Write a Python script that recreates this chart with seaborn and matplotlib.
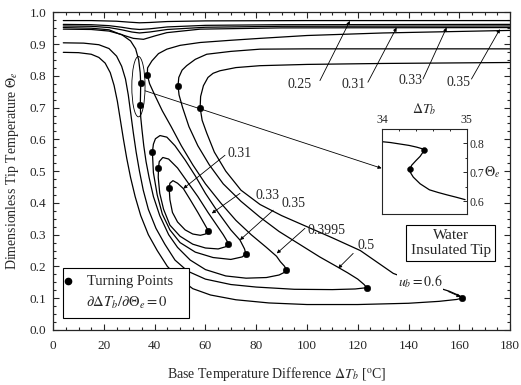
import numpy as np
import pandas as pd
import matplotlib
matplotlib.use("Agg")
import matplotlib.pyplot as plt
import seaborn as sns
from matplotlib.patches import Ellipse, Rectangle
from matplotlib.ticker import MultipleLocator, FormatStrFormatter

sns.set_style("ticks")
plt.rcParams["font.family"] = ["Liberation Serif", "DejaVu Serif"]
plt.rcParams["mathtext.fontset"] = "stix"

# upper branches u_b = 0.25 .. 0.35
up25_x = [4, 15, 25, 30, 34, 38, 45, 60, 100, 180]
up25_y = [0.974, 0.974, 0.972, 0.969, 0.967, 0.968, 0.971, 0.973, 0.974, 0.974]
up31_x = [4, 15, 22, 27, 31, 34, 38, 45, 60, 90, 180]
up31_y = [0.962, 0.961, 0.958, 0.953, 0.948, 0.946, 0.948, 0.954, 0.959, 0.961, 0.962]
up33_x = [4, 15, 22, 27, 31, 34, 38, 45, 60, 90, 180]
up33_y = [0.957, 0.956, 0.952, 0.945, 0.938, 0.935, 0.938, 0.946, 0.953, 0.956, 0.957]
up35_x = [4, 15, 22, 26.4, 31.6, 35.6, 40.2, 44.8, 57.9, 90, 180]
up35_y = [0.952, 0.950, 0.945, 0.931, 0.918, 0.915, 0.926, 0.936, 0.947, 0.951, 0.952]

# isolas u_b = 0.31, 0.33, 0.35
iso31_x = [45.7, 46.0, 47.2, 49.0, 51.3, 54.0, 57.0, 59.5, 60.7, 60.9, 60.0, 58.0, 55.0, 52.0, 49.0, 47.0, 46.0, 45.7]
iso31_y = [0.446, 0.462, 0.470, 0.462, 0.445, 0.410, 0.370, 0.335, 0.318, 0.310, 0.302, 0.298, 0.302, 0.315, 0.340, 0.370, 0.410, 0.446]
iso33_x = [41.5, 41.8, 43.2, 45.5, 49.0, 53.0, 57.0, 61.0, 64.0, 67.0, 68.5, 68.8, 68.0, 65.0, 60.0, 55.0, 50.0, 46.0, 43.5, 42.0, 41.4, 41.5]
iso33_y = [0.511, 0.530, 0.543, 0.538, 0.510, 0.465, 0.420, 0.370, 0.335, 0.300, 0.280, 0.272, 0.262, 0.255, 0.258, 0.270, 0.295, 0.330, 0.380, 0.430, 0.480, 0.511]
iso35_x = [39.1, 39.5, 40.3, 42.1, 44.8, 48.0, 52.0, 56.0, 60.0, 65.0, 70.0, 73.6, 75.4, 75.9, 74.5, 70.0, 63.0, 56.0, 50.0, 46.0, 43.0, 41.0, 39.5, 39.1]
iso35_y = [0.560, 0.585, 0.602, 0.612, 0.607, 0.580, 0.535, 0.485, 0.430, 0.370, 0.315, 0.283, 0.255, 0.240, 0.230, 0.222, 0.228, 0.245, 0.275, 0.315, 0.365, 0.425, 0.495, 0.560]

# S-shaped curves u_b = 0.3995, 0.5, 0.6 (descending, lower, middle, upper branch)
s40_x = [4, 15, 22, 27, 30.5, 32.5, 33.7, 34.3, 34.5, 34.42, 34.33, 34.5, 35.0, 35.7, 36.6, 37.8, 39.5, 42, 45.5, 49, 54, 60, 68, 76, 84, 89, 91.3, 91.7,
         91.2, 89.5, 88, 84, 78, 72, 66, 60, 55, 50.5, 46.5, 43, 40, 38, 37.1,
         37.2, 38.9, 41.5, 44.8, 50, 57.9, 70, 81.5, 100, 130, 180]
s40_y = [0.947, 0.946, 0.941, 0.930, 0.910, 0.885, 0.850, 0.810, 0.777, 0.740, 0.709, 0.670, 0.630, 0.580, 0.530, 0.480, 0.420, 0.360, 0.300, 0.260, 0.220, 0.190, 0.170, 0.163, 0.165, 0.173, 0.182, 0.190,
         0.200, 0.215, 0.232, 0.260, 0.300, 0.345, 0.400, 0.460, 0.520, 0.580, 0.640, 0.690, 0.740, 0.775, 0.803,
         0.825, 0.847, 0.870, 0.884, 0.896, 0.905, 0.912, 0.918, 0.927, 0.935, 0.943]
s50_x = [4, 12, 18, 22, 25, 27, 28.5, 29.6, 30.6, 31.6, 32.7, 34, 35.5, 37.5, 40.5, 44, 48, 53, 60, 70, 80, 95, 110, 119, 123.5,
         122.5, 120, 116, 112.3, 105, 97, 89, 81.5, 74, 67, 61.5, 57, 53.5, 51, 49.6, 49.2,
         49.5, 50.8, 52.6, 56, 60.5, 70, 81.5, 100, 140, 180]
s50_y = [0.904, 0.903, 0.898, 0.886, 0.862, 0.830, 0.790, 0.740, 0.680, 0.620, 0.560, 0.500, 0.440, 0.380, 0.320, 0.270, 0.220, 0.185, 0.160, 0.143, 0.135, 0.128, 0.127, 0.129, 0.133,
         0.143, 0.160, 0.180, 0.197, 0.230, 0.270, 0.310, 0.355, 0.405, 0.460, 0.520, 0.580, 0.640, 0.700, 0.740, 0.769,
         0.795, 0.818, 0.832, 0.852, 0.868, 0.877, 0.884, 0.885, 0.885, 0.885]
s60_x = [4, 10, 15, 18, 20.5, 22.5, 24, 25.3, 26.5, 27.7, 29, 30.5, 32.3, 34.5, 37.5, 41, 45, 50, 55, 62, 72, 85, 100, 120, 140, 152, 159, 161,
         160, 156, 148, 140, 134, 121, 110, 100, 90, 81.5, 74, 68, 63.5, 60.5, 58.7, 57.9,
         58.1, 59.2, 61, 63, 65.7, 72, 81.5, 100, 130, 180]
s60_y = [0.874, 0.873, 0.868, 0.858, 0.840, 0.810, 0.770, 0.720, 0.660, 0.600, 0.540, 0.480, 0.420, 0.360, 0.300, 0.250, 0.200, 0.160, 0.130, 0.110, 0.095, 0.085, 0.080, 0.080, 0.084, 0.090, 0.096, 0.100,
         0.108, 0.122, 0.142, 0.160, 0.178, 0.250, 0.290, 0.325, 0.360, 0.395, 0.440, 0.500, 0.560, 0.620, 0.660, 0.700,
         0.735, 0.769, 0.795, 0.808, 0.816, 0.826, 0.832, 0.836, 0.839, 0.842]

# turning points
tp_x = [34.5, 34.33, 37.1, 49.2, 57.9, 39.1, 41.5, 45.7, 60.9, 68.8, 75.9, 91.7, 123.5, 161.0]
tp_y = [0.777, 0.709, 0.803, 0.769, 0.700, 0.560, 0.511, 0.446, 0.310, 0.272, 0.240, 0.190, 0.133, 0.100]

# inset (zoom of u_b = 0.3995 near the pinch)
ins_x = [34.0, 34.1, 34.21, 34.32, 34.41, 34.48, 34.5, 34.48, 34.45, 34.4, 34.35, 34.33, 34.34, 34.37, 34.45, 34.56, 34.66, 34.76, 34.88, 34.98]
ins_y = [0.806, 0.803, 0.798, 0.793, 0.787, 0.781, 0.776, 0.768, 0.755, 0.740, 0.724, 0.711, 0.697, 0.683, 0.660, 0.639, 0.630, 0.622, 0.613, 0.605]
ins_tp_x = [34.5, 34.33]
ins_tp_y = [0.776, 0.711]

curves = [(up25_x, up25_y), (up31_x, up31_y), (up33_x, up33_y), (up35_x, up35_y),
          (iso31_x, iso31_y), (iso33_x, iso33_y), (iso35_x, iso35_y),
          (s40_x, s40_y), (s50_x, s50_y), (s60_x, s60_y)]

fig = plt.figure(figsize=(5.21, 3.85), dpi=100)
ax = fig.add_axes([0.102, 0.143, 0.877, 0.825])

for cx, cy in curves:
    sns.lineplot(x=cx, y=cy, sort=False, estimator=None, color="k", lw=0.9, ax=ax)
sns.scatterplot(x=tp_x, y=tp_y, color="k", s=22, edgecolor="k", zorder=5, ax=ax)

ax.set_xlim(0, 180)
ax.set_ylim(0, 1.0)
ax.xaxis.set_major_locator(MultipleLocator(20))
ax.xaxis.set_minor_locator(MultipleLocator(5))
ax.yaxis.set_major_locator(MultipleLocator(0.1))
ax.yaxis.set_minor_locator(MultipleLocator(0.025))
ax.yaxis.set_major_formatter(FormatStrFormatter("%.1f"))
ax.tick_params(which="both", direction="in", top=True, right=True, labelsize=9.5, width=0.8)
ax.tick_params(which="major", length=4.5, pad=5)
ax.tick_params(axis="x", which="major", pad=7)
ax.tick_params(which="minor", length=2.5)
for s in ax.spines.values():
    s.set_linewidth(0.9)

ax.set_xlabel(r"Base Temperature Difference $\Delta T_b$ [$^{\mathrm{o}}$C]", fontsize=10)
ax.set_ylabel(r"Dimensionless Tip Temperature $\Theta_e$", fontsize=10)
ax.xaxis.set_label_coords(0.49, -0.11)
ax.yaxis.set_label_coords(-0.07, 0.5)

# labels for the curves
arr = dict(arrowstyle="-|>", lw=0.6, color="k", mutation_scale=5, shrinkA=0, shrinkB=0)
top_labels = [("0.25", 97.2, 0.774, 105.1, 0.785, 116.9, 0.973),
              ("0.31", 118.2, 0.774, 124.0, 0.780, 135.3, 0.952),
              ("0.33", 140.6, 0.785, 145.7, 0.790, 155.0, 0.952),
              ("0.35", 159.6, 0.780, 164.8, 0.790, 176.0, 0.947),
              ("0.31", 73.6, 0.555, 67.7, 0.550, 51.3, 0.445),
              ("0.33", 84.3, 0.423, 73.6, 0.430, 62.5, 0.367),
              ("0.35", 94.5, 0.398, 86.7, 0.377, 73.6, 0.283),
              ("0.3995", 107.8, 0.314, 99.2, 0.320, 88.1, 0.241),
              ("0.5", 123.2, 0.265, 118.2, 0.241, 112.3, 0.194)]
for txt, tx, ty, sx, sy, ex, ey in top_labels:
    ax.text(tx, ty, txt, ha="center", va="center", fontsize=10)
    ax.annotate("", xy=(ex, ey), xytext=(sx, sy), arrowprops=arr)

ax.text(144.5, 0.153, r"$u_b = 0.6$", ha="center", va="center", fontsize=10,
        bbox=dict(fc="w", ec="none", pad=0.5), zorder=6)
ax.annotate("", xy=(160.5, 0.104), xytext=(155.6, 0.121), arrowprops=arr)

ax.text(156.6, 0.274, "Water\nInsulated Tip", ha="center", va="center", fontsize=11,
        linespacing=1.15, bbox=dict(boxstyle="square,pad=0.3", fc="w", ec="k", lw=0.8), zorder=6)

# legend box
ax.add_patch(Rectangle((3.8, 0.037), 49.9, 0.157, fc="w", ec="k", lw=0.8, zorder=6))
ax.plot([6.0], [0.153], "o", color="k", ms=4.5, zorder=7)
ax.text(13.5, 0.153, "Turning Points", ha="left", va="center", fontsize=10.5, zorder=7)
ax.text(29.0, 0.085, r"$\partial\Delta T_b/\partial\Theta_e = 0$", ha="center", va="center",
        fontsize=10.5, zorder=7)

# ellipse marking the zoomed region and connector to inset
ax.add_patch(Ellipse((33.6, 0.766), 5.2, 0.19, fill=False, ec="k", lw=0.6))
ax.annotate("", xy=(129.4, 0.509), xytext=(36.2, 0.753), arrowprops=arr)

# inset
axin = fig.add_axes([0.733, 0.444, 0.163, 0.221])
sns.lineplot(x=ins_x, y=ins_y, sort=False, estimator=None, color="k", lw=0.9, ax=axin)
sns.scatterplot(x=ins_tp_x, y=ins_tp_y, color="k", s=18, edgecolor="k", zorder=5, ax=axin)
axin.set_xlim(34, 35)
axin.set_ylim(0.555, 0.85)
axin.xaxis.set_major_locator(MultipleLocator(1))
axin.xaxis.set_minor_locator(MultipleLocator(0.2))
axin.yaxis.set_major_locator(MultipleLocator(0.1))
axin.yaxis.set_minor_locator(MultipleLocator(0.05))
axin.yaxis.set_major_formatter(FormatStrFormatter("%.1f"))
axin.tick_params(which="both", direction="in", top=True, right=True, bottom=False, left=False,
                 labeltop=True, labelbottom=False, labelright=True, labelleft=False,
                 labelsize=8.5, pad=2, width=0.7)
axin.tick_params(which="major", length=3)
axin.tick_params(which="minor", length=1.5)
axin.xaxis.set_label_position("top")
axin.set_xlabel(r"$\Delta T_b$", fontsize=10, labelpad=1)
axin.set_ylabel("")
axin.text(1.2, 0.49, r"$\Theta_e$", transform=axin.transAxes, ha="left", va="center", fontsize=10)
for s in axin.spines.values():
    s.set_linewidth(0.8)

fig.savefig("out.png", dpi=100)
